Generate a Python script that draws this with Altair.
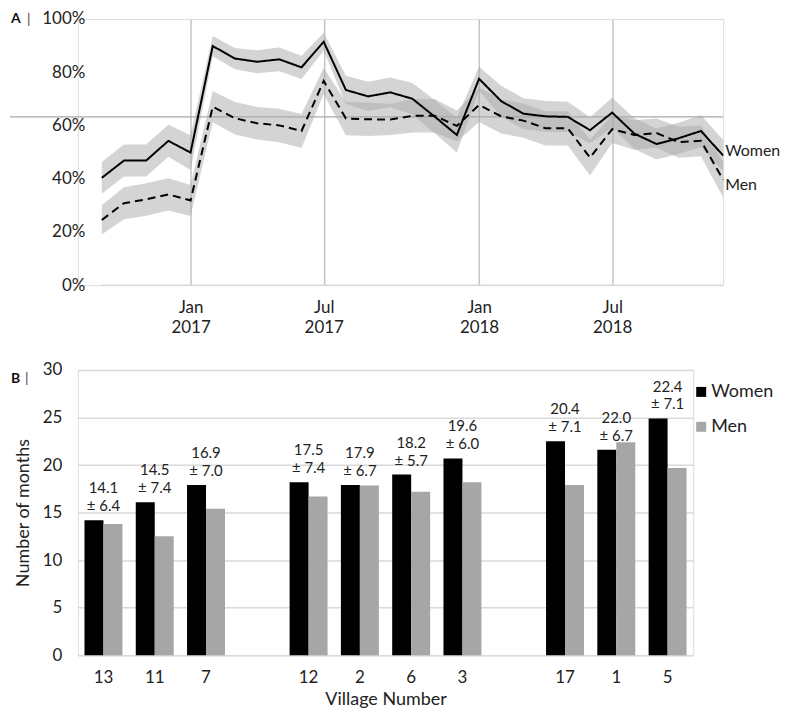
import altair as alt
import pandas as pd

# ---------------- Panel A data ----------------
month_index = list(range(29))
women_pct = [40.3, 46.8, 46.8, 54.2, 49.8, 89.8, 85.1, 83.9, 84.8, 81.8, 91.4, 73.3, 70.9, 72.4,
             70.0, 63.3, 56.4, 77.5, 69.1, 64.4, 63.4, 63.2, 58.2, 64.8, 56.9, 53.0, 55.2, 57.9, 48.7]
women_ci = [6.0, 6.0, 6.0, 6.0, 6.5, 3.8, 4.0, 4.3, 4.5, 4.4, 3.4, 5.3, 5.5, 5.6,
            5.9, 6.2, 6.6, 4.5, 5.8, 5.8, 5.8, 5.7, 4.9, 5.6, 5.8, 5.8, 5.8, 6.0, 5.8]
men_pct = [24.5, 30.8, 32.2, 34.1, 31.8, 67.0, 62.7, 60.8, 60.0, 57.9, 76.7, 62.6, 62.3, 62.2,
           63.6, 63.6, 59.8, 67.7, 63.4, 61.8, 58.9, 58.9, 47.9, 58.6, 56.4, 57.1, 53.7, 54.2, 39.6]
men_ci = [5.5, 6.0, 6.1, 6.1, 5.8, 5.8, 6.1, 6.1, 6.3, 6.4, 4.9, 6.3, 6.3, 5.8,
          6.3, 6.3, 5.8, 6.4, 6.4, 6.4, 6.4, 6.4, 6.7, 5.2, 5.5, 5.5, 5.8, 5.8, 6.7]
tick_index = [4, 10, 17, 23]
tick_month = ["Jan", "Jul", "Jan", "Jul"]
tick_year = ["2017", "2017", "2018", "2018"]
reference_pct = 63.2
pct_ticks = [0, 20, 40, 60, 80, 100]

# ---------------- Panel B data ----------------
villages = ["13", "11", "7", "12", "2", "6", "3", "17", "1", "5"]
women_months = [14.2, 16.1, 17.9, 18.2, 17.9, 19.0, 20.7, 22.5, 21.6, 24.9]
men_months = [13.8, 12.5, 15.4, 16.7, 17.85, 17.2, 18.2, 17.9, 22.4, 19.7]
mean_labels = ["14.1", "14.5", "16.9", "17.5", "17.9", "18.2", "19.6", "20.4", "22.0", "22.4"]
sd_labels = ["6.4", "7.4", "7.0", "7.4", "6.7", "5.7", "6.0", "7.1", "6.7", "7.1"]
village_slots = ["13", "11", "7", " ", "12", "2", "6", "3", "  ", "17", "1", "5"]
sexes = ["Women", "Men"]
sex_colors = ["#000000", "#a6a6a6"]

FONT = "Lato"
TXT = "#222222"
WA, HA = 647, 267
WB, HB = 617, 286

# ---------------- build panel A ----------------
rows = []
for sex, vals, ci in (("Women", women_pct, women_ci), ("Men", men_pct, men_ci)):
    for i, v, c in zip(month_index, vals, ci):
        rows.append({"idx": i, "sex": sex, "pct": v, "lo": v - c, "hi": v + c})
dfA = pd.DataFrame(rows)

label_expr = ""
for i, m, y in zip(tick_index, tick_month, tick_year):
    label_expr += f"datum.value == {i} ? ['{m}', '{y}'] : "
label_expr += "''"

x_scale_A = alt.Scale(domain=[-1.08, 28], nice=False, zero=False)
y_scale_A = alt.Scale(domain=[0, 100], nice=False)
x_axis_A = alt.Axis(values=tick_index, labelExpr=label_expr, grid=True, gridColor="#c4c4c4",
                    gridWidth=1.5, domain=False, ticks=False, tickSize=0, labelPadding=14,
                    labelLineHeight=20, labelFontSize=17, labelColor=TXT, labelFont=FONT,
                    labelFlush=False, title=None)
y_axis_A = alt.Axis(values=pct_ticks, labelExpr="datum.value + '%'", grid=False, domain=False,
                    ticks=False, tickSize=0, labelPadding=0, offset=-7, labelFontSize=17,
                    labelColor=TXT, labelFont=FONT, labelFlush=False, title=None)

xA = alt.X("idx:Q", scale=x_scale_A, axis=x_axis_A)

bands = alt.Chart(dfA).mark_area(color="#aaaaaa", opacity=0.5).encode(
    x=xA,
    y=alt.Y("lo:Q", scale=y_scale_A, axis=y_axis_A),
    y2="hi:Q",
    detail="sex:N",
)

base_rule = alt.Chart(pd.DataFrame({"a": [0]})).mark_rule(color="#d9d9d9", strokeWidth=1.5).encode(
    x=alt.X(datum=0, scale=x_scale_A, axis=x_axis_A),
    x2=alt.X2(datum=28),
    y=alt.Y(datum=0, scale=y_scale_A, axis=y_axis_A),
)

ref_rule = alt.Chart(pd.DataFrame({"a": [0]})).mark_rule(color="#a8a8a8", strokeWidth=1.2).encode(
    x=alt.value(-68),
    x2=alt.value(WA),
    y=alt.Y(datum=reference_pct, scale=y_scale_A, axis=y_axis_A),
)

lines = alt.Chart(dfA).mark_line(color="black", strokeWidth=2).encode(
    x=xA,
    y=alt.Y("pct:Q", scale=y_scale_A, axis=y_axis_A),
    strokeDash=alt.StrokeDash("sex:N", scale=alt.Scale(domain=sexes, range=[[1, 0], [8, 5]]),
                              legend=None),
)

end_w = alt.Chart(dfA).transform_filter("datum.idx == 28 && datum.sex == 'Women'").mark_text(
    align="left", baseline="middle", dx=2, dy=-4, fontSize=16, font=FONT, color=TXT
).encode(x=xA, y=alt.Y("pct:Q", scale=y_scale_A, axis=y_axis_A), text="sex:N")

end_m = alt.Chart(dfA).transform_filter("datum.idx == 28 && datum.sex == 'Men'").mark_text(
    align="left", baseline="middle", dx=2, dy=5, fontSize=16, font=FONT, color=TXT
).encode(x=xA, y=alt.Y("pct:Q", scale=y_scale_A, axis=y_axis_A), text="sex:N")

tagA = alt.Chart(pd.DataFrame({"t": ["A"]})).mark_text(
    align="left", baseline="middle", fontSize=14, fontWeight="bold", font=FONT, color="#111"
).encode(x=alt.value(-67), y=alt.value(0), text="t:N")
barA = alt.Chart(pd.DataFrame({"t": ["|"]})).mark_text(
    align="left", baseline="middle", fontSize=14, font=FONT, color="#444"
).encode(x=alt.value(-51), y=alt.value(1), text="t:N")

panelA = alt.layer(bands, base_rule, ref_rule, lines, end_w, end_m, tagA, barA).properties(
    width=WA, height=HA)

# ---------------- build panel B ----------------
rowsB = []
for v, w, m in zip(villages, women_months, men_months):
    rowsB.append({"village": v, "sex": "Women", "months": w})
    rowsB.append({"village": v, "sex": "Men", "months": m})
dfB = pd.DataFrame(rowsB)
dfL = pd.DataFrame({
    "village": villages,
    "months": women_months,
    "mean": mean_labels,
    "sd": ["± " + s for s in sd_labels],
})

x_scale_B = alt.Scale(domain=village_slots, paddingInner=0.26, paddingOuter=0.13)
y_scale_B = alt.Scale(domain=[0, 30], nice=False)
x_axis_B = alt.Axis(labelAngle=0, domain=False, ticks=False, labelPadding=14, labelFontSize=17,
                    labelColor=TXT, labelFont=FONT, labelOverlap=False, title="Village Number",
                    titleFontSize=18, titleFontWeight="normal", titleColor=TXT, titleFont=FONT,
                    titlePadding=5)
y_axis_B = alt.Axis(values=[0, 5, 10, 15, 20, 25, 30], grid=True, gridColor="#d9d9d9", gridWidth=1.5,
                    domain=False, ticks=False, tickSize=0, labelPadding=16, labelFontSize=17,
                    labelColor=TXT, labelFont=FONT, title="Number of months", titleFontSize=18,
                    titleFontWeight="normal", titleColor=TXT, titleFont=FONT, titlePadding=10)

bars = alt.Chart(dfB).mark_bar().encode(
    x=alt.X("village:N", scale=x_scale_B, axis=x_axis_B),
    xOffset=alt.XOffset("sex:N", scale=alt.Scale(domain=sexes, paddingInner=0, paddingOuter=0)),
    y=alt.Y("months:Q", scale=y_scale_B, axis=y_axis_B),
    color=alt.Color("sex:N", scale=alt.Scale(domain=sexes, range=sex_colors),
                    legend=alt.Legend(orient="none", legendX=616, legendY=13, title=None,
                                      symbolType="square", symbolSize=100, symbolStrokeWidth=0,
                                      labelFontSize=18, labelFont=FONT, labelColor=TXT,
                                      rowPadding=17, labelOffset=1, padding=0)),
)

sd_text = alt.Chart(dfL).mark_text(
    baseline="bottom", align="center", dy=-6, fontSize=15, font=FONT, color=TXT
).encode(
    x=alt.X("village:N", scale=x_scale_B, axis=x_axis_B),
    y=alt.Y("months:Q", scale=y_scale_B, axis=y_axis_B),
    text="sd:N",
)
mean_text = alt.Chart(dfL).mark_text(
    baseline="bottom", align="center", dy=-24, fontSize=15, font=FONT, color=TXT
).encode(
    x=alt.X("village:N", scale=x_scale_B, axis=x_axis_B),
    y=alt.Y("months:Q", scale=y_scale_B, axis=y_axis_B),
    text="mean:N",
)

tagB = alt.Chart(pd.DataFrame({"t": ["B"]})).mark_text(
    align="left", baseline="middle", fontSize=14, fontWeight="bold", font=FONT, color="#111"
).encode(x=alt.value(-67), y=alt.value(9), text="t:N")
barB = alt.Chart(pd.DataFrame({"t": ["|"]})).mark_text(
    align="left", baseline="middle", fontSize=14, font=FONT, color="#444"
).encode(x=alt.value(-53), y=alt.value(9), text="t:N")

panelB = alt.layer(bars, sd_text, mean_text, tagB, barB).properties(width=WB, height=HB)

chart = alt.vconcat(panelA, panelB, spacing=24).resolve_scale(
    color="independent", strokeDash="independent"
).resolve_legend(color="independent").properties(
    padding={"left": 0, "top": 0, "right": 0, "bottom": 0}
).configure_view(stroke=None).configure(font=FONT)

chart.save("out.html", embed_options={"renderer": "svg", "actions": False})
